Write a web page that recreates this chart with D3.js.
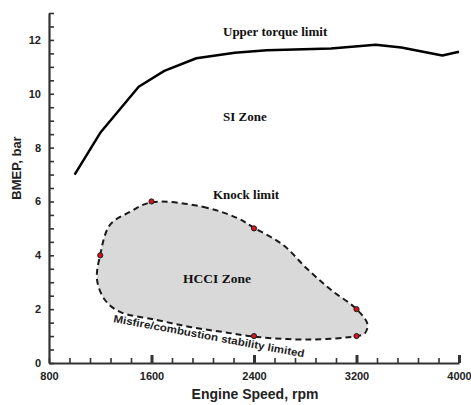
<!DOCTYPE html>
<html>
<head>
<meta charset="utf-8">
<script src="https://cdn.jsdelivr.net/npm/d3@7"></script>
<style>
  body { margin: 0; background: #fff; }
  svg { display: block; }
  .tick text { font-family: "Liberation Sans", Arial, sans-serif; font-weight: bold; font-size: 11px; fill: #222; }
  .serifLabel { font-family: "Liberation Serif", "Times New Roman", serif; font-weight: bold; font-size: 13px; fill: #111; }
</style>
</head>
<body>
<div id="chart"></div>
<script>
// Upper torque limit (rpm, bar)
var torqueRpm = [1000, 1200, 1500, 1700, 1950, 2250, 2500, 3000, 3350, 3550, 3870, 4000];
var torqueBar = [7, 8.55, 10.26, 10.85, 11.32, 11.52, 11.62, 11.68, 11.82, 11.72, 11.42, 11.56];

// HCCI zone outline, clockwise from the top
var hcciRpm = [1600, 2000, 2267, 2400, 2626, 2814, 3000, 3200, 3285, 3265, 3200, 2840, 2420, 2160, 1900, 1640, 1354, 1237, 1175, 1198, 1276, 1432];
var hcciBar = [5.97, 5.8, 5.39, 5.02, 4.39, 3.5, 2.72, 2.0, 1.45, 1.1, 1.0, 0.87, 0.97, 1.15, 1.34, 1.6, 1.9, 2.34, 3.09, 3.98, 5.13, 5.61];

// measured points on the boundary
var markRpm = [1600, 1200, 2400, 3200, 3200, 2400];
var markBar = [6, 4, 5, 2, 1, 1];

var xTicks = d3.range(800, 4001, 160);
var xLabels = [800, 1600, 2400, 3200, 4000];
var yTicks = d3.range(0, 13.01, 0.5);
var yLabels = [0, 2, 4, 6, 8, 10, 12];

var width = 471, height = 405;

var svg = d3.select("#chart").append("svg")
    .attr("width", width)
    .attr("height", height);

var xScale = d3.scaleLinear().domain([800, 4000]).range([49, 459]);
var yScale = d3.scaleLinear().domain([0, 13]).range([363, 13]);

// HCCI zone
var hcciPts = hcciRpm.map(function(r, i) { return [r, hcciBar[i]]; });
var area = d3.line()
    .x(function(d) { return xScale(d[0]); })
    .y(function(d) { return yScale(d[1]); })
    .curve(d3.curveCatmullRomClosed.alpha(0.5));

svg.append("path")
    .datum(hcciPts)
    .attr("d", area)
    .attr("fill", "#d9d9d9")
    .attr("stroke", "#1a1a1a")
    .attr("stroke-width", 2)
    .attr("stroke-dasharray", "6,4");

// markers
svg.selectAll("circle.mark")
    .data(markRpm.map(function(r, i) { return [r, markBar[i]]; }))
    .enter().append("circle")
    .attr("class", "mark")
    .attr("cx", function(d) { return xScale(d[0]); })
    .attr("cy", function(d) { return yScale(d[1]); })
    .attr("r", 2.6)
    .attr("fill", "#d4141c")
    .attr("stroke", "#222")
    .attr("stroke-width", 1);

// Upper torque limit line
var torquePts = torqueRpm.map(function(r, i) { return [r, torqueBar[i]]; });
var line = d3.line()
    .x(function(d) { return xScale(d[0]); })
    .y(function(d) { return yScale(d[1]); });

svg.append("path")
    .datum(torquePts)
    .attr("d", line)
    .attr("fill", "none")
    .attr("stroke", "#000")
    .attr("stroke-width", 2.5)
    .attr("stroke-linejoin", "round");

// Axes
var xAxis = d3.axisBottom(xScale)
    .tickValues(xTicks)
    .tickSizeInner(-5)
    .tickSizeOuter(0)
    .tickPadding(9)
    .tickFormat(function(d) { return xLabels.indexOf(d) >= 0 ? d : ""; });

var yAxis = d3.axisLeft(yScale)
    .tickValues(yTicks)
    .tickSizeInner(-5)
    .tickSizeOuter(0)
    .tickPadding(8)
    .tickFormat(function(d) { return yLabels.indexOf(d) >= 0 ? d : ""; });

var gx = svg.append("g")
    .attr("transform", "translate(0,363)")
    .call(xAxis);

var gy = svg.append("g")
    .attr("transform", "translate(49,0)")
    .call(yAxis);

[gx, gy].forEach(function(g) {
  g.select(".domain").attr("stroke", "#333").attr("stroke-width", 2.2);
  g.selectAll(".tick line").attr("stroke", "#333").attr("stroke-width", 1.6);
});

// heavier major ticks on x
gx.selectAll(".tick line")
    .filter(function(d) { return xLabels.indexOf(d) > 0; })
    .attr("stroke-width", 3)
    .attr("y2", -8);

// Axis titles
svg.append("text")
    .attr("x", 255)
    .attr("y", 399)
    .attr("text-anchor", "middle")
    .style("font-family", "'Liberation Sans', Arial, sans-serif")
    .style("font-weight", "bold")
    .style("font-size", "14px")
    .attr("fill", "#222")
    .text("Engine Speed, rpm");

svg.append("text")
    .attr("transform", "translate(21,168)rotate(-90)")
    .attr("text-anchor", "middle")
    .style("font-family", "'Liberation Sans', Arial, sans-serif")
    .style("font-weight", "bold")
    .style("font-size", "13px")
    .attr("fill", "#222")
    .text("BMEP, bar");

// Zone labels
svg.append("text").attr("class", "serifLabel").attr("x", 223).attr("y", 36).text("Upper torque limit");
svg.append("text").attr("class", "serifLabel").attr("x", 223).attr("y", 121).text("SI Zone");
svg.append("text").attr("class", "serifLabel").attr("x", 213).attr("y", 199).text("Knock limit");
svg.append("text").attr("class", "serifLabel").attr("x", 183).attr("y", 283).style("font-size", "13.5px").text("HCCI Zone");

svg.append("text")
    .attr("transform", "translate(113,322)rotate(10.5)")
    .attr("textLength", 194)
    .attr("lengthAdjust", "spacingAndGlyphs")
    .style("font-family", "'Liberation Sans', Arial, sans-serif")
    .style("font-weight", "bold")
    .style("font-size", "10.5px")
    .attr("fill", "#222")
    .text("Misfire/combustion stability limited");
</script>
</body>
</html>
